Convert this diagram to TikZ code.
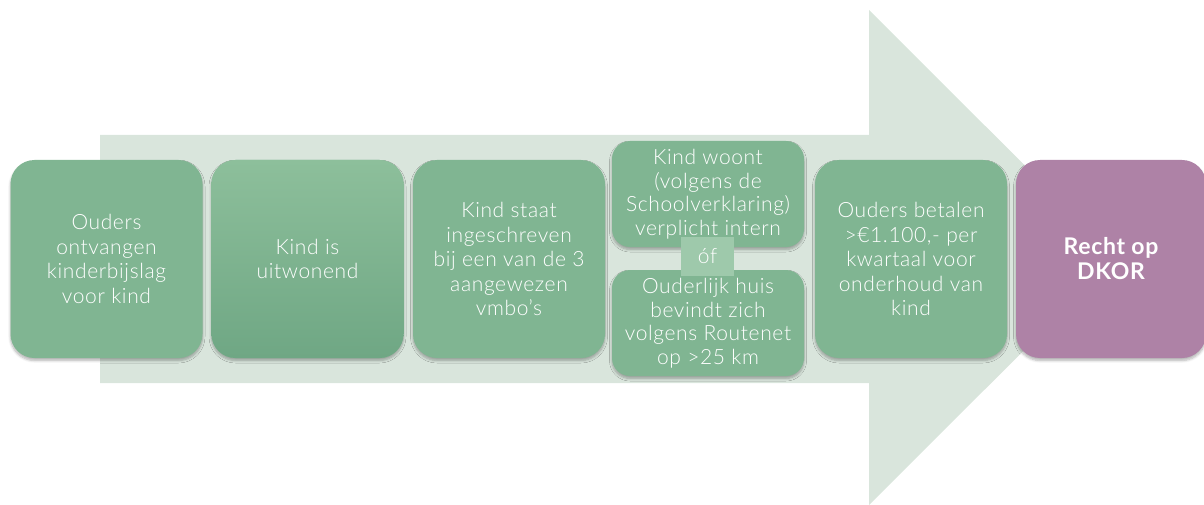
\documentclass[tikz,border=0pt]{standalone}
\usepackage{fontspec}
\setmainfont{Lato}[UprightFont=* Light, BoldFont=* Bold, LetterSpace=3]
\usetikzlibrary{shadows.blur}
\definecolor{arrowbg}{HTML}{D9E5DC}
\definecolor{boxgreen}{HTML}{80B592}
\definecolor{boxtop}{HTML}{8DBF9B}
\definecolor{boxbot}{HTML}{6FA784}
\definecolor{offill}{HTML}{9EC9AB}
\definecolor{purplebox}{HTML}{AE82A6}
\tikzset{
  stepbox/.style={rounded corners=24pt, fill=boxgreen, text=white, align=center,
    minimum width=192pt, minimum height=198pt, inner sep=0pt,
    font=\fontsize{21}{24.5}\selectfont,
    blur shadow={shadow xshift=0pt, shadow yshift=-2.5pt, shadow blur radius=2.5pt, shadow blur steps=6, shadow opacity=30}},
  halfbox/.style={stepbox, rounded corners=18pt, minimum height=106pt, font=\fontsize{21}{23.5}\selectfont},
  ofbox/.style={fill=offill, text=white, minimum width=53pt, minimum height=39pt, inner sep=0pt,
    font=\fontsize{21}{24}\selectfont}
}
\begin{document}
\begin{tikzpicture}[x=1pt,y=-1pt]
\useasboundingbox (0,0) rectangle (1204,505);
% big arrow
\fill[arrowbg] (100,135) -- (869,135) -- (869,10) -- (1117,257.5) -- (869,505) -- (869,383) -- (100,383) -- cycle;
\node[stepbox] (b1) at (106.5,259) {Ouders\\ontvangen\\kinderbijslag\\voor kind};
\node[stepbox, top color=boxtop, bottom color=boxbot] (b2) at (307.5,259) {Kind is\\uitwonend};
\node[stepbox] (b3) at (509,259) {Kind staat\\ingeschreven\\bij een van de 3\\aangewezen\\vmbo’s};
\node[halfbox] (b4a) at (708,194) {Kind woont\\(volgens de\\Schoolverklaring)\\verplicht intern};
\node[halfbox] (b4b) at (708,323) {Ouderlijk huis\\bevindt zich\\volgens Routenet\\op >25 km};
\node[ofbox] (of) at (707.5,256.5) {óf};
\node[stepbox] (b5) at (911,259) {Ouders betalen\\>€1.100,- per\\kwartaal voor\\onderhoud van\\kind};
\node[stepbox, fill=purplebox, minimum width=190pt, font=\fontsize{23}{25}\selectfont\bfseries] (b6) at (1111,259) {Recht op\\DKOR};
\end{tikzpicture}
\end{document}
